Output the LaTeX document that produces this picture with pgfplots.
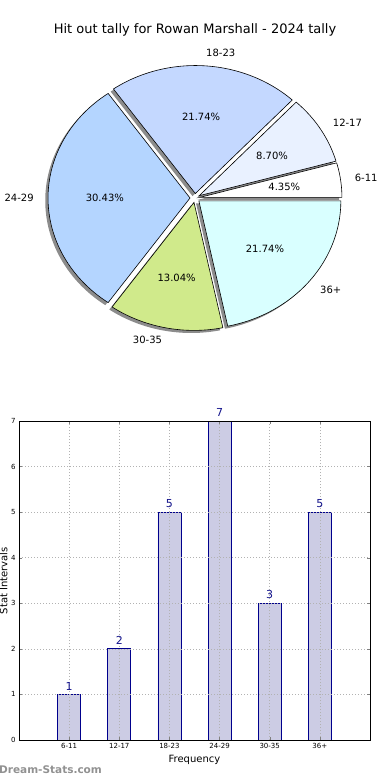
\documentclass[border=0pt]{standalone}
\usepackage{pgfplots}
\pgfplotsset{compat=1.18}
\usepackage{fontspec}
\setmainfont{DejaVu Sans}
\definecolor{cA}{RGB}{255,255,255}
\definecolor{cB}{RGB}{233,241,255}
\definecolor{cC}{RGB}{196,216,255}
\definecolor{cD}{RGB}{180,213,255}
\definecolor{cE}{RGB}{208,234,139}
\definecolor{cF}{RGB}{217,255,255}
\definecolor{barfill}{RGB}{204,204,228}
\definecolor{navy}{RGB}{0,0,140}
\definecolor{lblcol}{RGB}{20,20,140}
\definecolor{wm}{RGB}{145,145,145}
\newcommand\pielabel{\fontsize{10}{12}\selectfont}
\def\ex{0.035}
% #1 start count, #2 count (total 23)
\newcommand\pieshadow[2]{%
  \pgfmathsetmacro\aS{360*#1/23}%
  \pgfmathsetmacro\aE{360*(#1+#2)/23}%
  \pgfmathsetmacro\aM{(\aS+\aE)/2}%
  \pgfmathsetmacro\px{195-2.8+\ex*142*cos(\aM)}%
  \pgfmathsetmacro\py{-198-2.6+\ex*128*sin(\aM)}%
  \edef\doit{%
    \noexpand\addplot[fill=black!45, draw=none, domain=\aS:\aE, samples=60]
      ({\px+142*cos(x)},{\py+128*sin(x)}) -- (axis cs:\px,\py) -- cycle;
  }\doit}
% #1 start count, #2 count, #3 colour, #4 label, #5 anchor, #6 pct
\newcommand\pieslice[6]{%
  \pgfmathsetmacro\aS{360*#1/23}%
  \pgfmathsetmacro\aE{360*(#1+#2)/23}%
  \pgfmathsetmacro\aM{(\aS+\aE)/2}%
  \pgfmathsetmacro\px{195+\ex*142*cos(\aM)}%
  \pgfmathsetmacro\py{-198+\ex*128*sin(\aM)}%
  \pgfmathsetmacro\lx{\px+1.1*142*cos(\aM)}%
  \pgfmathsetmacro\ly{\py+1.1*128*sin(\aM)}%
  \pgfmathsetmacro\tx{\px+0.6*142*cos(\aM)}%
  \pgfmathsetmacro\ty{\py+0.6*128*sin(\aM)}%
  \edef\doit{%
    \noexpand\addplot[fill=#3, draw=black, line width=0.6pt, line join=miter, domain=\aS:\aE, samples=60]
      ({\px+142*cos(x)},{\py+128*sin(x)}) -- (axis cs:\px,\py) -- cycle;
    \noexpand\node[anchor=#5, font=\noexpand\pielabel, inner sep=0pt] at (axis cs:\lx,\ly) {#4};
    \noexpand\node[font=\noexpand\pielabel, inner sep=0pt] at (axis cs:\tx,\ty) {#6\noexpand\%};
  }\doit}
\begin{document}
\begin{tikzpicture}
\path[use as bounding box] (0pt,0pt) rectangle (390pt,-780pt);
\begin{axis}[at={(0pt,0pt)}, anchor=north west, scale only axis,
  width=390pt, height=370pt, xmin=0, xmax=390, ymin=-370, ymax=0,
  hide axis, clip=false]
\pieshadow{0}{1}
\pieshadow{1}{2}
\pieshadow{3}{5}
\pieshadow{8}{7}
\pieshadow{15}{3}
\pieshadow{18}{5}
\pieslice{0}{1}{cA}{6-11}{west}{4.35}
\pieslice{1}{2}{cB}{12-17}{west}{8.70}
\pieslice{3}{5}{cC}{18-23}{west}{21.74}
\pieslice{8}{7}{cD}{24-29}{east}{30.43}
\pieslice{15}{3}{cE}{30-35}{east}{13.04}
\pieslice{18}{5}{cF}{36+}{west}{21.74}
\node[font=\fontsize{13}{15}\selectfont] at (axis cs:195,-30) {Hit out tally for Rowan Marshall - 2024 tally};
\end{axis}
\begin{axis}[at={(19pt,-740pt)}, anchor=south west, scale only axis,
  width=351pt, height=319pt,
  xmin=-1, xmax=6, ymin=0, ymax=7,
  ybar, bar width=23pt,
  xtick={0,1,2,3,4,5},
  xticklabels={6-11,12-17,18-23,24-29,30-35,36+},
  ytick={0,1,2,3,4,5,6,7},
  /pgf/number format/assume math mode=true,
  tick label style={font=\fontsize{7}{8}\selectfont},
  tick align=inside, major tick length=3pt,
  grid=major, grid style={dash pattern=on 1pt off 2pt, black!30, line width=0.7pt},
  axis on top, axis line style={line width=0.8pt},
  xlabel={Frequency}, ylabel={Stat Intervals},
  label style={font=\fontsize{10}{12}\selectfont},
  xlabel style={at={(axis description cs:0.5,-0.063)}, anchor=center},
  ylabel style={at={(axis description cs:-0.0328,0.5)}, anchor=base},
  nodes near coords,
  nodes near coords style={font=\fontsize{11}{13}\selectfont, text=lblcol, inner sep=4pt},
  clip=false]
\addplot[fill=barfill, draw=navy, line width=0.8pt] coordinates {(0,1) (1,2) (2,5) (3,7) (4,3) (5,5)};
\end{axis}
\node[anchor=west, text=wm, font=\bfseries\fontsize{10.5}{12}\selectfont, inner sep=0pt] at (-1pt,-770pt) {Dream-Stats.com};
\end{tikzpicture}
\end{document}
